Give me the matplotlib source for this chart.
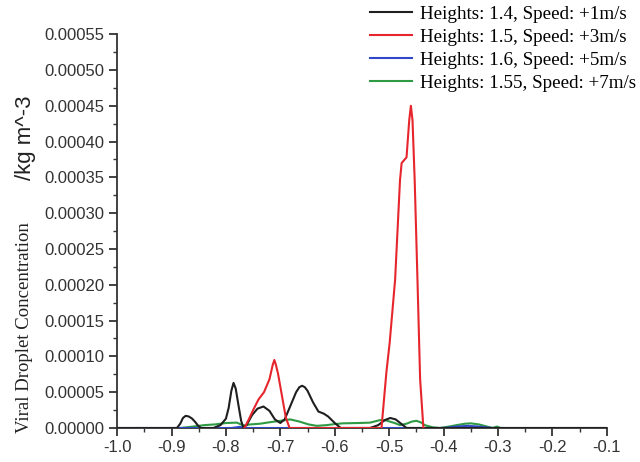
import numpy as np
import matplotlib.pyplot as plt
from matplotlib.ticker import MultipleLocator, FormatStrFormatter

# concentration profiles along x (kg m^-3)
x_black = [-1.0, -0.89, -0.884, -0.879, -0.874, -0.868, -0.862, -0.856, -0.852, -0.846, -0.823, -0.81, -0.80, -0.795,
           -0.790, -0.786, -0.782, -0.777, -0.772, -0.768, -0.762, -0.752, -0.742, -0.731, -0.72, -0.71, -0.70,
           -0.692, -0.682, -0.671, -0.665, -0.660, -0.655, -0.650, -0.640, -0.630, -0.620, -0.612, -0.600, -0.589,
           -0.535, -0.52, -0.508, -0.498, -0.488, -0.478, -0.468, -0.1]
y_black = [0, 0, 0.000006, 0.000014, 0.000017, 0.000016, 0.000013, 0.000008, 0.000004, 0, 0, 0.000004, 0.000013, 0.000028,
           0.000052, 0.000063, 0.000055, 0.000032, 0.00001, 0.000001, 0.000004, 0.000018, 0.000027, 0.000030, 0.000024, 0.000012, 0.000007,
           0.000012, 0.000030, 0.000050, 0.000057, 0.000059, 0.000057, 0.000052, 0.000036, 0.000023, 0.000020, 0.000016, 0.000007, 0,
           0, 0.000004, 0.000011, 0.000014, 0.000012, 0.000006, 0, 0]

x_red = [-0.766, -0.758, -0.75, -0.74, -0.73, -0.72, -0.714, -0.711, -0.708, -0.704, -0.697, -0.69, -0.683,
         -0.514, -0.505, -0.499, -0.489, -0.480, -0.477, -0.468, -0.463, -0.460, -0.457, -0.453, -0.448, -0.443, -0.437]
y_red = [0, 0.000012, 0.000025, 0.000040, 0.000050, 0.000068, 0.000088, 0.000095, 0.000088, 0.000075, 0.000045, 0.000015, 0,
         0, 0.000078, 0.000119, 0.000207, 0.000346, 0.00037, 0.000378, 0.00043, 0.00045, 0.00043, 0.000346, 0.00021, 0.000068, 0]

x_blue = [-1.0, -0.79, -0.775, -0.76, -0.40, -0.375, -0.355, -0.335, -0.31, -0.29]
y_blue = [0, 0, 0.0000015, 0, 0, 0.000002, 0.000003, 0.000002, 0, 0]

x_green = [-0.884, -0.86, -0.84, -0.82, -0.799, -0.78, -0.768, -0.755, -0.737, -0.72, -0.70,
           -0.682, -0.665, -0.648, -0.633, -0.615, -0.60, -0.585, -0.554, -0.535, -0.517, -0.505,
           -0.499, -0.490, -0.480, -0.468, -0.458, -0.450, -0.442, -0.4345, -0.42, -0.407, -0.39,
           -0.376, -0.36, -0.35, -0.335, -0.32, -0.31, -0.302, -0.295, -0.1]
y_green = [0, 0.000002, 0.000004, 0.000005, 0.000007, 0.0000075, 0.0000035, 0.000005, 0.000006, 0.000008, 0.00001,
           0.000012, 0.000009, 0.000005, 0.000003, 0.000004, 0.0000055, 0.0000065, 0.000007, 0.0000075, 0.000011, 0.0000105,
           0.000009, 0.000007, 0.000004, 0.000006, 0.000009, 0.00001, 0.000008, 0.000004, 0.000001, 0, 0.000002,
           0.000004, 0.000006, 0.0000065, 0.000005, 0.000002, 0, 0.000002, 0, 0]

labels = ["Heights: 1.4, Speed: +1m/s", "Heights: 1.5, Speed: +3m/s",
          "Heights: 1.6, Speed: +5m/s", "Heights: 1.55, Speed: +7m/s"]
colors = ["#1f1f1f", "#e6262c", "#3048c8", "#2e9a44"]

fig = plt.figure(figsize=(6.4, 4.62), dpi=100)
ax = fig.add_axes([0.183, 0.0736, 0.765, 0.8524])

l_green, = ax.plot(x_green, y_green, color=colors[3], lw=1.5, zorder=2)
l_blue, = ax.plot(x_blue, y_blue, color=colors[2], lw=1.5, zorder=3)
l_black, = ax.plot(x_black, y_black, color=colors[0], lw=1.5, zorder=4)
l_red, = ax.plot(x_red, y_red, color=colors[1], lw=1.5, zorder=5)

ax.set_xlim(-1.0, -0.1)
ax.set_ylim(0, 0.00055)
ax.xaxis.set_major_locator(MultipleLocator(0.1))
ax.xaxis.set_minor_locator(MultipleLocator(0.05))
ax.yaxis.set_major_locator(MultipleLocator(0.00005))
ax.yaxis.set_minor_locator(MultipleLocator(0.000025))
ax.xaxis.set_major_formatter(FormatStrFormatter('%.1f'))
ax.yaxis.set_major_formatter(FormatStrFormatter('%.5f'))

for side in ['top', 'right']:
    ax.spines[side].set_visible(False)
for side in ['left', 'bottom']:
    ax.spines[side].set_color('#333333')
    ax.spines[side].set_linewidth(1.3)
ax.tick_params(which='major', direction='out', length=6, width=1.3, color='#333333',
               labelsize=12, labelcolor='#333333', pad=3)
ax.tick_params(which='minor', direction='out', length=3, width=1.0, color='#333333')
for lab in ax.get_xticklabels() + ax.get_yticklabels():
    lab.set_family('Liberation Sans')

# two-part y label: quantity in serif, unit in sans
fig.text(0.038, 0.062, "Viral Droplet Concentration", rotation=90, va='bottom', ha='center',
         family='Liberation Serif', fontsize=13.5, color='#222222')
fig.text(0.040, 0.61, "/kg m^-3", rotation=90, va='bottom', ha='center',
         family='Liberation Sans', fontsize=16, color='#222222')

fig.legend([l_black, l_red, l_blue, l_green], labels,
           loc='upper left', bbox_to_anchor=(0.566, 1.005), frameon=False,
           prop={'family': 'Liberation Serif', 'size': 13.7},
           handlelength=2.2, handletextpad=0.41, labelspacing=0.3, borderaxespad=0)

fig.savefig("out.png", dpi=100)
